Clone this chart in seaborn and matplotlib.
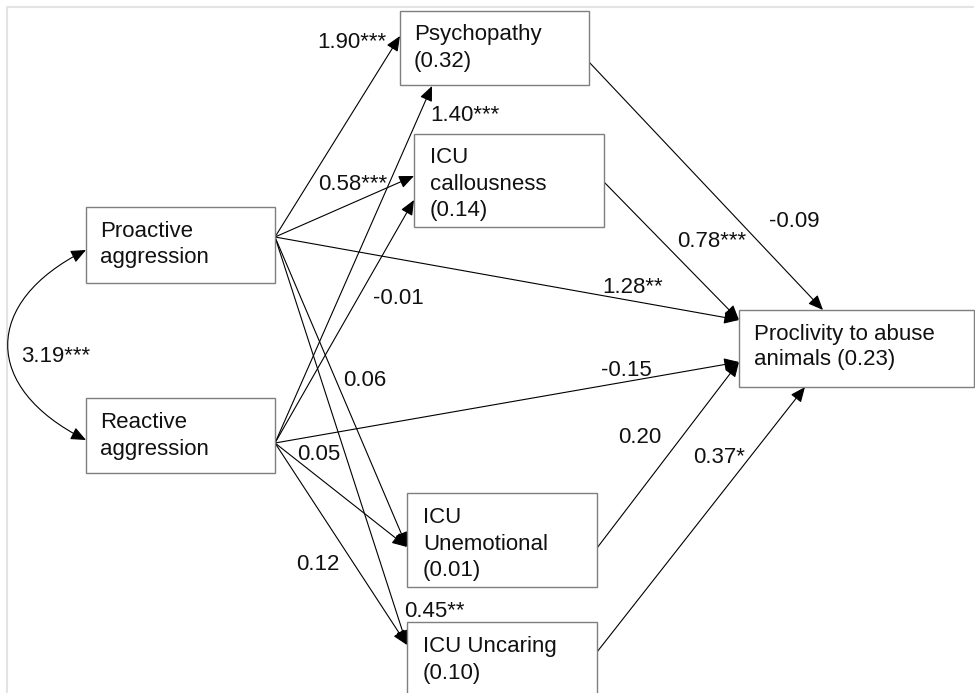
import matplotlib
matplotlib.use("Agg")
import matplotlib.pyplot as plt
import seaborn as sns
from matplotlib.patches import Rectangle, FancyArrowPatch
from matplotlib.path import Path

# ---------------- data ----------------
nodes = ["Proactive", "Reactive", "Psychopathy", "Callousness",
         "Unemotional", "Uncaring", "Proclivity"]
node_labels = ["Proactive\naggression", "Reactive\naggression",
               "Psychopathy\n(0.32)", "ICU\ncallousness\n(0.14)",
               "ICU\nUnemotional\n(0.01)", "ICU Uncaring\n(0.10)",
               "Proclivity to abuse\nanimals (0.23)"]
edge_from = ["Proactive", "Proactive", "Proactive", "Proactive", "Proactive",
             "Reactive", "Reactive", "Reactive", "Reactive", "Reactive",
             "Psychopathy", "Callousness", "Unemotional", "Uncaring"]
edge_to = ["Psychopathy", "Callousness", "Proclivity", "Unemotional", "Uncaring",
           "Psychopathy", "Callousness", "Proclivity", "Unemotional", "Uncaring",
           "Proclivity", "Proclivity", "Proclivity", "Proclivity"]
edge_coef = ["1.90***", "0.58***", "1.28**", "0.06", "0.45**",
             "1.40***", "-0.01", "-0.15", "0.05", "0.12",
             "-0.09", "0.78***", "0.20", "0.37*"]
covariance_coef = "3.19***"

# ---------------- layout (pixels) ----------------
boxes = {
    "Proactive": (86, 207, 275, 283),
    "Reactive": (86, 398, 275, 473),
    "Psychopathy": (400, 11, 589, 85),
    "Callousness": (414, 134, 604, 227),
    "Unemotional": (407, 493, 597, 587),
    "Uncaring": (407, 622, 597, 705),
    "Proclivity": (739, 310, 974, 387),
}
text_pos = {  # left x, first baseline, line spacing
    "Proactive": (100, 237, 26.5),
    "Reactive": (100, 428, 26.5),
    "Psychopathy": (414, 40, 26.5),
    "Callousness": (430, 163, 26.5),
    "Unemotional": (423, 523, 26.5),
    "Uncaring": (423, 652, 26.5),
    "Proclivity": (754, 340, 25.5),
}
edge_geom = [  # start, end, label left x, label baseline
    ((275, 237), (400, 36), (317, 48)),
    ((275, 237), (414, 176), (318, 190)),
    ((275, 237), (739, 320), (602, 293)),
    ((275, 237), (407, 547), (343, 386)),
    ((275, 237), (407, 645), (404, 617)),
    ((275, 443), (432, 86), (430, 121)),
    ((275, 443), (414, 200), (373, 304)),
    ((275, 443), (739, 362), (601, 376)),
    ((275, 443), (407, 547), (297, 460)),
    ((275, 443), (407, 645), (296, 570)),
    ((589, 62), (823, 310), (769, 227)),
    ((604, 182), (739, 320), (677, 247)),
    ((597, 548), (739, 362), (618, 443)),
    ((597, 652), (805, 387), (693, 463)),
]

FONT = "Liberation Sans"
FS = 16

sns.set_theme(style="white")
plt.rcParams["font.family"] = [FONT, "DejaVu Sans"]

fig = plt.figure(figsize=(9.75, 6.93), dpi=100)
ax = fig.add_axes([0, 0, 1, 1])
ax.set_xlim(0, 975)
ax.set_ylim(693, 0)
ax.axis("off")

# light frame
ax.plot([7, 7, 973], [693, 7, 7], color="#e3e3e3", lw=1.5, zorder=0)

# boxes and text
for n, lab in zip(nodes, node_labels):
    x0, y0, x1, y1 = boxes[n]
    ax.add_patch(Rectangle((x0, y0), x1 - x0, y1 - y0, fill=True,
                           facecolor="white", edgecolor="#7f7f7f", lw=1.0, zorder=3))
    tx, ty, sp = text_pos[n]
    for i, line in enumerate(lab.split("\n")):
        ax.text(tx, ty + i * sp, line, fontsize=FS, family=FONT, color="#111111",
                ha="left", va="baseline", zorder=4)

# edges
astyle = "-|>,head_length=0.65,head_width=0.28"
for (s, e, lp), coef in zip(edge_geom, edge_coef):
    arr = FancyArrowPatch(s, e, arrowstyle=astyle, mutation_scale=14,
                          color="black", lw=0.8, shrinkA=0, shrinkB=0, zorder=2)
    ax.add_patch(arr)
    ax.text(lp[0], lp[1], coef, fontsize=FS, family=FONT, color="#111111",
            ha="left", va="baseline", zorder=5)

# covariance curve
cov_path = Path([(86, 250), (-18, 302), (-18, 388), (86, 440)],
                [Path.MOVETO, Path.CURVE4, Path.CURVE4, Path.CURVE4])
cov = FancyArrowPatch(path=cov_path, arrowstyle="<|-|>,head_length=0.65,head_width=0.28",
                      mutation_scale=14, color="black", lw=0.8, zorder=2)
ax.add_patch(cov)
ax.text(21, 362, covariance_coef, fontsize=FS, family=FONT, color="#111111",
        ha="left", va="baseline", zorder=5)

fig.savefig("out.png", dpi=100)
